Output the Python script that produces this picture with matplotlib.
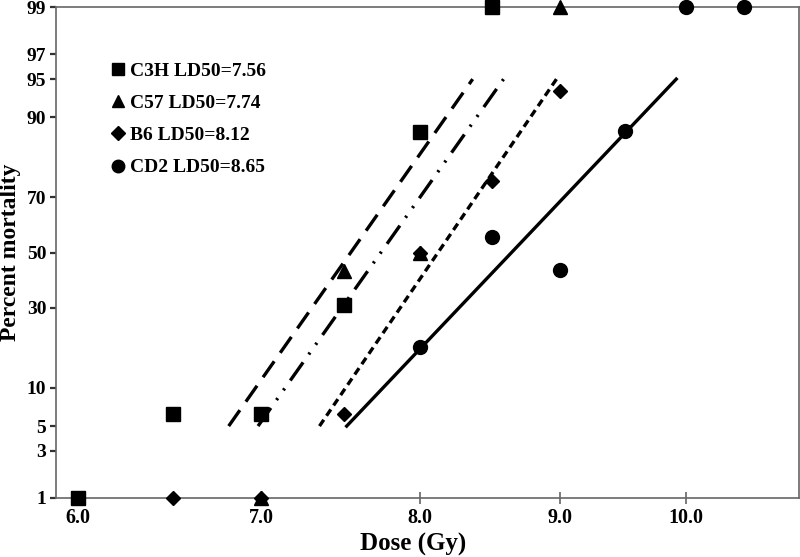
import numpy as np
import matplotlib
matplotlib.use("Agg")
import matplotlib.pyplot as plt
from statistics import NormalDist

plt.rcParams['font.family'] = ['Liberation Serif', 'DejaVu Serif']
plt.rcParams['font.weight'] = 'bold'
plt.rcParams['lines.scale_dashes'] = False

# observed mortality (%) per dose (Gy); 1 and 99 stand for 0 / 100 %
c3h_dose = [6.0, 6.5, 7.0, 7.5, 8.0, 8.5]
c3h_mort = [1, 6.3, 6.3, 31, 87.3, 99]
c57_dose = [7.0, 7.5, 8.0, 9.0]
c57_mort = [1, 43, 50, 99]
b6_dose = [6.5, 7.0, 7.5, 8.0, 8.5, 9.0]
b6_mort = [1, 1, 6.3, 50, 75, 93.7]
cd2_dose = [8.0, 8.5, 9.0, 9.5, 10.0, 10.5]
cd2_mort = [18.6, 56, 43.6, 87.5, 99, 99]

# probit fit lines, drawn from 5 % to 95 %
fit_mort = [5, 95]
c3h_fit = [6.81, 8.36]
c57_fit = [6.98, 8.58]
b6_fit = [7.35, 8.97]
cd2_fit = [7.52, 9.92]

labels = ['C3H LD50=7.56', 'C57 LD50=7.74', 'B6 LD50=8.12', 'CD2 LD50=8.65']
yticks = [1, 3, 5, 10, 30, 50, 70, 90, 95, 97, 99]
xticks = [6.0, 7.0, 8.0, 9.0, 10.0]

nd = NormalDist()
_ppf = np.vectorize(nd.inv_cdf, otypes=[float])
_cdf = np.vectorize(nd.cdf, otypes=[float])

def probit(p):
    p = np.clip(np.asarray(p, dtype=float) / 100.0, 1e-9, 1 - 1e-9)
    return _ppf(p)

def inv_probit(z):
    return _cdf(np.asarray(z, dtype=float)) * 100.0

fig = plt.figure(figsize=(8, 5.57), dpi=100)
ax = fig.add_axes([0.07, 0.106, 0.929, 0.881])
ax.set_xscale('log')
ax.set_yscale('function', functions=(probit, inv_probit))

lw = 2.4
ax.plot(c3h_fit, fit_mort, color='k', lw=lw, dashes=(14, 7.5))
ax.plot(c57_fit, fit_mort, color='k', lw=lw, dashes=(16, 7, 1.6, 7, 1.6, 7))
ax.plot(b6_fit, fit_mort, color='k', lw=lw, dashes=(5.5, 3.5))
ax.plot(cd2_fit, fit_mort, color='k', lw=lw)

ms = 10
ax.plot(c3h_dose, c3h_mort, 's', color='k', ms=ms, label=labels[0], clip_on=False, zorder=3)
ax.plot(b6_dose, b6_mort, 'D', color='k', ms=7.5, label=labels[2], clip_on=False, zorder=3)
ax.plot(c57_dose, c57_mort, '^', color='k', ms=ms, label=labels[1], clip_on=False, zorder=4)
ax.plot(cd2_dose, cd2_mort, 'o', color='k', ms=ms, label=labels[3], clip_on=False, zorder=3)

ax.set_xlim(5.89, 11.0)
ax.set_ylim(1, 99)
ax.set_xticks(xticks)
ax.set_xticklabels(['%.1f' % v for v in xticks])
ax.xaxis.set_minor_locator(matplotlib.ticker.NullLocator())
ax.set_yticks(yticks)
ax.set_yticklabels([str(v) for v in yticks])
ax.yaxis.set_minor_locator(matplotlib.ticker.NullLocator())

for s in ax.spines.values():
    s.set_color('#666666')
    s.set_linewidth(1.2)
ax.tick_params(axis='x', direction='inout', length=8, width=1.2, color='#666666',
               labelsize=14.5, pad=3)
ax.tick_params(axis='y', direction='out', length=4, width=1.6, color='#333333',
               labelsize=14, pad=3)

ax.set_xlabel('Dose (Gy)', fontsize=18, fontweight='bold')
ax.xaxis.set_label_coords(0.481, -0.072)
ax.set_ylabel('Percent mortality', fontsize=17, fontweight='bold', labelpad=4)

h, l = ax.get_legend_handles_labels()
order = [0, 2, 1, 3]
ax.legend([h[i] for i in order], [l[i] for i in order], loc='upper left',
          bbox_to_anchor=(0.07, 0.888), frameon=False, fontsize=14,
          handlelength=1.0, handletextpad=0.15, labelspacing=0.75,
          borderpad=0, borderaxespad=0, markerscale=0.9)

fig.savefig('out.png', dpi=100)
